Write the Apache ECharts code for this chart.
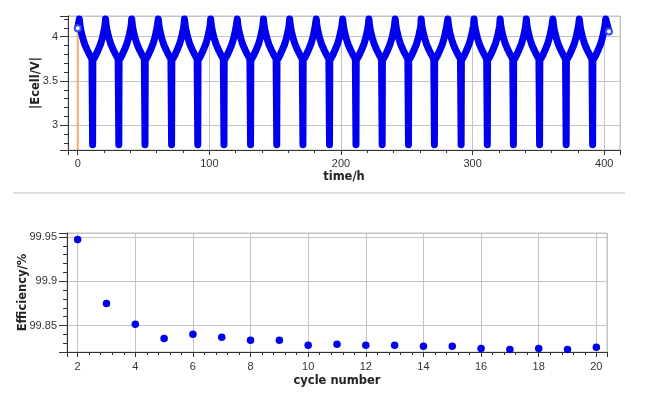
<!DOCTYPE html>
<html>
<head>
<meta charset="utf-8">
<title>Cell voltage and efficiency</title>
<script src="https://cdn.jsdelivr.net/npm/echarts@6.0.0/dist/echarts.min.js"></script>
<style>
  html, body { margin: 0; padding: 0; background: #fff; }
  #chart { width: 666px; height: 397px; }
</style>
</head>
<body>
<div id="chart"></div>
<script>
// top panel: |Ecell| vs time, 20 identical-looking cycles
const peakHours = [1.2, 21.1, 41.0, 61.2, 81.1, 101.0, 121.2, 141.1, 161.0, 181.2, 201.3,
  221.2, 241.2, 260.9, 281.2, 301.1, 320.9, 340.8, 361.0, 381.1, 401.2]
// shape of one cycle (hours after a peak, volts)
const cycleHours = [0, 0.6, 1.5, 2.7, 4.2, 6.0, 8.0, 9.6, 10.1, 10.1, 10.3, 10.3, 10.8, 12.5, 14.3, 16.0, 17.4, 18.5, 19.4]
const cycleVolts = [4.20, 4.12, 4.05, 3.98, 3.91, 3.85, 3.79, 3.75, 3.73, 2.78, 2.78, 3.73, 3.75, 3.79, 3.85, 3.91, 3.98, 4.05, 4.12]
const firstPoint = [0, 4.095]
const lastPoint = [403.6, 4.06]
const orangeMarker = [[0, 4.1], [0, 2.72]]

// bottom panel: coulombic efficiency per cycle
const cycleNumbers = [2, 3, 4, 5, 6, 7, 8, 9, 10, 11, 12, 13, 14, 15, 16, 17, 18, 19, 20]
const efficiency = [99.9471, 99.8750, 99.8516, 99.8355, 99.8402, 99.8368, 99.8334, 99.8334, 99.8278, 99.8290,
  99.8278, 99.8278, 99.8266, 99.8266, 99.8242, 99.8230, 99.8242, 99.8230, 99.8255]

const voltage = [firstPoint]
for (let i = 0; i < peakHours.length - 1; i++) {
  cycleHours.forEach((h, j) => voltage.push([peakHours[i] + h, cycleVolts[j]]))
}
voltage.push([peakHours[peakHours.length - 1], cycleVolts[0]])
voltage.push(lastPoint)

const blue = '#0000ee'
const labelFont = { fontFamily: 'Liberation Sans', fontSize: 11, color: '#333' }
const nameFont = { fontFamily: 'DejaVu Sans', fontSize: 11.5, fontWeight: 'bold', color: '#222' }

const valueAxis = (o) => ({
  type: 'value',
  gridIndex: o.grid,
  min: o.min,
  max: o.max,
  splitNumber: o.split,
  name: o.name,
  nameLocation: 'middle',
  nameGap: o.gap,
  nameRotate: o.rotate,
  nameMoveOverlap: false,
  nameTextStyle: nameFont,
  axisLine: { show: true, onZero: false, lineStyle: { color: '#333', width: 1 } },
  axisTick: { show: true, length: o.tick, lineStyle: { color: '#333' } },
  minorTick: { show: true, splitNumber: 5, length: o.minor, lineStyle: { color: '#333' } },
  axisLabel: { ...labelFont, margin: o.margin, showMinLabel: false, showMaxLabel: false },
  splitLine: { show: true, lineStyle: { color: '#c4c4c4' } }
})

const chart = echarts.init(document.getElementById('chart'))

chart.setOption({
  animation: false,
  backgroundColor: '#fff',
  grid: [
    { left: 68, top: 16, width: 552, height: 134, show: true, borderColor: '#c0c0c0', borderWidth: 1 },
    { left: 67, top: 233, width: 540, height: 119, show: true, borderColor: '#c0c0c0', borderWidth: 1 }
  ],
  xAxis: [
    valueAxis({ grid: 0, min: -7.4, max: 412, split: 4, name: 'time/h', gap: 21, tick: 5, minor: 3, margin: 8 }),
    valueAxis({ grid: 1, min: 1.63, max: 20.37, split: 9, name: 'cycle number', gap: 23, tick: 5, minor: 3, margin: 9 })
  ],
  yAxis: [
    valueAxis({ grid: 0, min: 2.72, max: 4.234, split: 3, name: '|Ecell/V|', gap: 26, rotate: 90, tick: 8, minor: 4, margin: 10 }),
    valueAxis({ grid: 1, min: 99.8202, max: 99.9545, split: 3, name: 'Efficiency/%', gap: 38, rotate: 90, tick: 8, minor: 4, margin: 10 })
  ],
  graphic: [
    {
      type: 'line',
      shape: { x1: 13, y1: 193, x2: 625, y2: 193 },
      style: { stroke: '#d4d4d4', lineWidth: 1.5 },
      silent: true
    }
  ],
  series: [
    {
      type: 'line',
      xAxisIndex: 0,
      yAxisIndex: 0,
      data: orangeMarker,
      symbol: 'none',
      lineStyle: { color: '#f4ad6a', width: 2 },
      z: 1
    },
    {
      type: 'line',
      xAxisIndex: 0,
      yAxisIndex: 0,
      data: voltage,
      symbol: 'none',
      lineStyle: { color: blue, width: 7, cap: 'round', join: 'round' },
      z: 2
    },
    {
      type: 'scatter',
      xAxisIndex: 0,
      yAxisIndex: 0,
      data: [firstPoint, lastPoint],
      symbol: 'emptyCircle',
      symbolSize: 6,
      itemStyle: { color: '#3a4cf0', borderWidth: 1.2, opacity: 1 },
      z: 3
    },
    {
      type: 'scatter',
      xAxisIndex: 1,
      yAxisIndex: 1,
      data: cycleNumbers.map((c, i) => [c, efficiency[i]]),
      symbol: 'circle',
      symbolSize: 7.5,
      itemStyle: { color: blue, opacity: 1 }
    }
  ]
})

window.addEventListener('resize', () => chart.resize())
</script>
</body>
</html>
